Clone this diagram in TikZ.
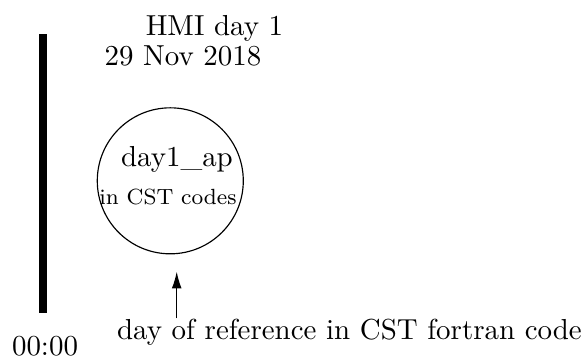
\documentclass[tikz,border=0pt]{standalone}
\usetikzlibrary{arrows.meta}
\begin{document}
\begin{tikzpicture}[lbl/.style={anchor=base,inner sep=0pt},
                    ring/.style={draw,thin,circle,inner sep=0pt,minimum size=1.774cm},
                    pointer/.style={-{Latex[length=5.8pt,width=3.4pt]}}]
                \useasboundingbox (0,0) rectangle (7.12,4.35);
                \draw[line width=2.76pt] (0.526,3.933) -- (0.526,0.543);
                \node[lbl] (title) at (2.606,3.924) {HMI day 1};
                \node[lbl] (date) at (2.223,3.560) {29 Nov 2018};
                \node[ring] (ap) at (2.069,2.153) {};
                \node[lbl] (apname) at (2.150,2.324) {day1\_ap};
                \node[lbl,font=\fontsize{7.6pt}{9pt}\selectfont] (apcodes) at (2.041,1.862) {in CST codes};
                \node[lbl] (ref) at (4.246,0.219) {day of reference in CST fortran code};
                \coordinate (reftail) at (2.147,0.482);
                \coordinate (reftip) at (2.147,1.049);
                \draw[pointer] (reftail) -- (reftip);
                \node[lbl] (start) at (0.547,0.036) {00:00};

                \end{tikzpicture}
\end{document}
